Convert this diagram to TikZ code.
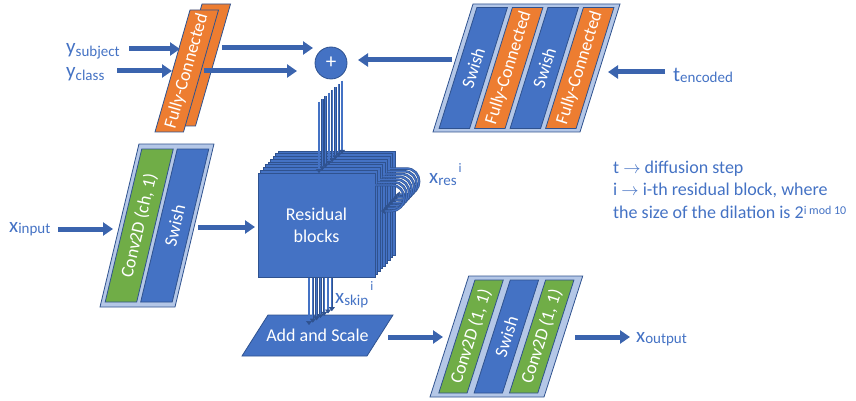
\documentclass[tikz,border=0pt]{standalone}
\usepackage{fontspec}
\setmainfont{Carlito}
\usetikzlibrary{arrows.meta,calc}
\definecolor{blueF}{HTML}{4472C4}
\definecolor{darkB}{HTML}{2F528F}
\definecolor{lightB}{HTML}{B4C7E7}
\definecolor{orangeF}{HTML}{ED7D31}
\definecolor{greenF}{HTML}{70AD47}
\definecolor{txtB}{HTML}{4472C4}
\definecolor{arrB}{HTML}{3B64AE}
\newcommand\mainsz{\fontsize{21}{21}\selectfont}
\newcommand\subsz{\fontsize{15}{15}\selectfont}
\newcommand\supsz{\fontsize{13}{13}\selectfont}
\tikzset{
 frame/.style={fill=lightB, draw=darkB, line width=0.8pt},
 bluestripe/.style={fill=blueF, draw=darkB, line width=0.8pt},
 orangestripe/.style={fill=orangeF, draw=darkB, line width=0.8pt},
 greenstripe/.style={fill=greenF, draw=darkB, line width=0.8pt},
 striptext/.style={text=white, font=\fontsize{18}{18}\selectfont, inner sep=0pt},
 blockarrow/.style={draw=arrB, line width=5pt, -{Triangle[length=10pt,width=13pt]}},
 thinarrow/.style={draw=darkB, double=blueF, double distance=1.3pt, line width=0.6pt, -{Triangle[length=4pt,width=6pt]}},
 lbl/.style={text=txtB, inner sep=0pt, anchor=base west},
 note/.style={text=txtB, inner sep=0pt, anchor=base west, font=\fontsize{18}{22}\selectfont},
 layer/.style={fill=blueF, draw=darkB, line width=0.8pt, minimum width=117pt, minimum height=104pt, inner sep=0pt},
}
\begin{document}
\begin{tikzpicture}[x=1pt,y=-1pt]
\useasboundingbox (0,0) rectangle (856,401);

% ---- left fully-connected pair
\begin{scope}[shift={(167,126)}, xslant=0.287]
 \draw[orangestripe] (0,0) rectangle (28.5,-122);
\end{scope}
\begin{scope}[shift={(155,132)}, xslant=0.287]
 \draw[orangestripe] (0,0) rectangle (28.5,-122);
 \node[striptext, rotate=74] (fcL) at (14.25,-61) {Fully-Connected};
\end{scope}

% ---- right time-embedding block
\begin{scope}[shift={(433,132)}, xslant=0.3125]
 \draw[frame] (0,0) rectangle (147,-128);
 \draw[bluestripe] (5,-3.5) rectangle (35.5,-124.5);
 \draw[orangestripe] (40.5,-3.5) rectangle (71,-124.5);
 \draw[bluestripe] (76,-3.5) rectangle (106.5,-124.5);
 \draw[orangestripe] (111.5,-3.5) rectangle (142,-124.5);
 \node[striptext, rotate=72.65] (tr1) at (20.25,-64) {Swish};
 \node[striptext, rotate=72.65] (tr2) at (55.75,-64) {Fully-Connected};
 \node[striptext, rotate=72.65] (tr3) at (91.25,-64) {Swish};
 \node[striptext, rotate=72.65] (tr4) at (126.75,-64) {Fully-Connected};
\end{scope}

% ---- input conv block
\begin{scope}[shift={(100,307)}, xslant=0.239]
 \draw[frame] (0,0) rectangle (75,-163);
 \draw[greenstripe] (4,-5) rectangle (35.5,-158);
 \draw[bluestripe] (39.5,-5) rectangle (71,-158);
 \node[striptext, rotate=76.6] (cv1) at (19.75,-81.5) {Conv2D (ch, 1)};
 \node[striptext, rotate=76.6] (cv2) at (55.25,-81.5) {Swish};
\end{scope}

% ---- output block
\begin{scope}[shift={(430,397)}, xslant=0.32]
 \draw[frame] (0,0) rectangle (114,-121);
 \draw[greenstripe] (7.5,-4) rectangle (35.83,-117);
 \draw[bluestripe] (42.83,-4) rectangle (71.17,-117);
 \draw[greenstripe] (78.17,-4) rectangle (106.5,-117);
 \node[striptext, rotate=72.26] (ob1) at (21.67,-60.5) {Conv2D (1, 1)};
 \node[striptext, rotate=72.26] (ob2) at (57,-60.5) {Swish};
 \node[striptext, rotate=72.26] (ob3) at (92.33,-60.5) {Conv2D (1, 1)};
\end{scope}

% ---- add and scale
\begin{scope}[shift={(242,356)}, xslant=0.634]
 \draw[bluestripe] (0,0) rectangle (125,-41);
 \node[striptext] (add) at (62.5,-20.5) {Add and Scale};
\end{scope}

% ---- plus
\node[circle, fill=blueF, draw=darkB, line width=0.8pt, minimum size=32pt, inner sep=0pt,
      text=white, font=\fontsize{21}{21}\selectfont] (plus) at (331,63) {+};

% ---- residual stack
\foreach \k in {8,...,1} {
  \node[layer] (res\k) at (316.5+2.5*\k, 225-2.75*\k) {};
}
\node[layer, text=white, align=center, font=\fontsize{18}{22}\selectfont] (res0) at (316.5,225) {Residual\\blocks};

% conditioning arrows into the stack
\foreach \k in {7,...,0} {
  \coordinate (ds\k) at (319+3.3*\k, 102-3*\k);
  \coordinate (de\k) at (319+3.3*\k, 173-2.75*\k);
  \draw[thinarrow] (ds\k) -- (de\k);
}
% residual loops
\foreach \k in {6,...,0} {
  \coordinate (ls\k) at (375+2.5*\k, 185-2.75*\k);
  \coordinate (le\k) at (381+2.5*\k, 211-2.75*\k);
  \draw[thinarrow] (ls\k) -- (391+2.5*\k, 185-2.75*\k)
     .. controls (408.5+2.5*\k, 185-2.75*\k) and (408.5+2.5*\k, 211-2.75*\k) ..
     (391+2.5*\k, 211-2.75*\k) -- (le\k);
}
% skip arrows
\foreach \k in {6,...,0} {
  \coordinate (ss\k) at (309+3.8*\k, 278);
  \coordinate (se\k) at (309+3.8*\k, 325-2.3*\k);
  \draw[thinarrow] (ss\k) -- (se\k);
}

% ---- labels
\node[lbl] (ysub) at (66,54) {{\mainsz y}\raisebox{-2.5pt}{\subsz subject}};
\node[lbl] (ycls) at (66,78) {{\mainsz y}\raisebox{-3pt}{\subsz class}};
\node[lbl] (xin) at (9,232) {{\mainsz x}\raisebox{-1.5pt}{\subsz input}};
\node[lbl] (tenc) at (673,82) {{\mainsz t}\raisebox{-1pt}{\subsz encoded}};
\node[lbl] (xout) at (636,342) {{\mainsz x}\raisebox{-1.5pt}{\subsz output}};
\node[lbl] (xskip) at (335,303) {{\mainsz x}\raisebox{-2pt}{\subsz skip}\hspace{2pt}\raisebox{13pt}{\supsz i}};
\node[lbl] (xres) at (429,183) {{\mainsz x}\raisebox{-2pt}{\subsz res}\hspace{2pt}\raisebox{11pt}{\supsz i}};

\node[note] (n1) at (613,173) {t $\rightarrow$ diffusion step};
\node[note] (n2) at (613,195) {i $\rightarrow$ i-th residual block, where};
\node[note] (n3) at (613,218) {the size of the dilation is 2\raisebox{3.5pt}{\fontsize{12}{12}\selectfont i mod 10}};

% ---- block arrows
\coordinate (a1s) at (129,49);  \coordinate (a1e) at (180,49);
\coordinate (a2s) at (117,71);  \coordinate (a2e) at (172,71);
\coordinate (a3s) at (222,48);  \coordinate (a3e) at (313,48);
\coordinate (a4s) at (204,71);  \coordinate (a4e) at (297,71);
\coordinate (a5s) at (452,60);  \coordinate (a5e) at (358,60);
\coordinate (a6s) at (665,72);  \coordinate (a6e) at (608,72);
\coordinate (a7s) at (58,229);  \coordinate (a7e) at (113,229);
\coordinate (a8s) at (198,227); \coordinate (a8e) at (255,227);
\coordinate (a9s) at (388,337); \coordinate (a9e) at (443,337);
\coordinate (a10s) at (575,337); \coordinate (a10e) at (630,337);
\foreach \i in {1,...,10} { \draw[blockarrow] (a\i s) -- (a\i e); }
\end{tikzpicture}
\end{document}
